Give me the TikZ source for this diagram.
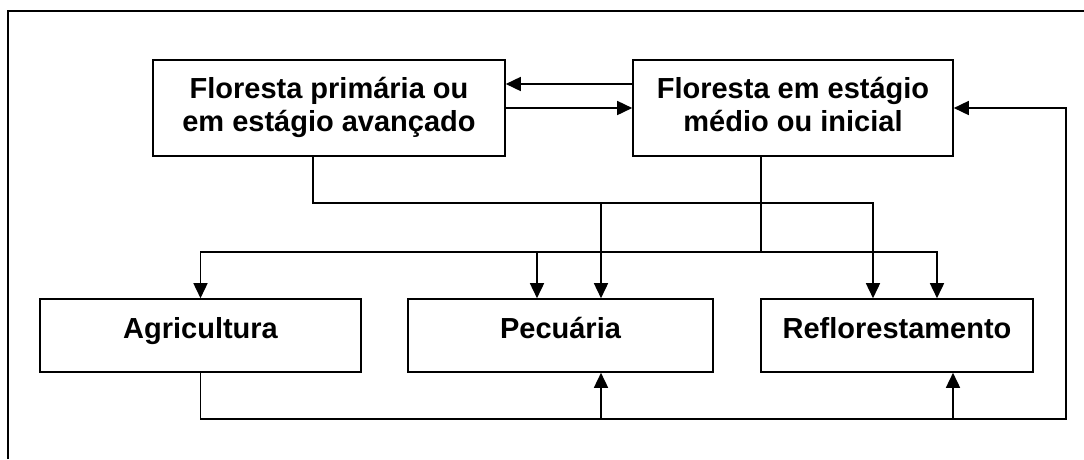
\documentclass[tikz,border=0pt]{standalone}
\usepackage{fontspec}
\setmainfont{Liberation Sans}
\usetikzlibrary{arrows.meta}
\begin{document}
\begin{tikzpicture}[x=1pt,y=-1pt,
  line width=1.6pt,
  boxstyle/.style={draw,rectangle,inner sep=0pt,line width=1.6pt},
  lbl/.style={anchor=base,inner sep=0pt,font=\fontsize{29}{33.4}\selectfont\bfseries},
  arr/.style={-{Triangle[length=15pt,width=14pt]}}]
\useasboundingbox (0,0) rectangle (1084,459);
% outer frame (partly visible)
\draw (8,459) -- (8,11) -- (1084,11);
% boxes
\node[boxstyle,minimum width=352pt,minimum height=96pt] (A) at (329,108) {};
\node[boxstyle,minimum width=320pt,minimum height=96pt] (B) at (793,108) {};
\node[boxstyle,minimum width=321pt,minimum height=73pt] (Ag) at (200.5,335.5) {};
\node[boxstyle,minimum width=305pt,minimum height=73pt] (Pe) at (560.5,335.5) {};
\node[boxstyle,minimum width=272pt,minimum height=73pt] (Re) at (897,335.5) {};
% texts
\node[lbl] (A1) at (329,98.3) {Floresta primária ou};
\node[lbl] (A2) at (329,131.3) {em estágio avançado};
\node[lbl] (B1) at (793,98.3) {Floresta em estágio};
\node[lbl] (B2) at (793,131.3) {médio ou inicial};
\node[lbl] (AgT) at (200.5,338.3) {Agricultura};
\node[lbl] (PeT) at (560.5,338.3) {Pecuária};
\node[lbl] (ReT) at (897,338.3) {Reflorestamento};
% junction coordinates
\coordinate (ja) at (313,203);
\coordinate (jap) at (601,203);
\coordinate (jar) at (873,203);
\coordinate (jb) at (761,252);
\coordinate (jbp) at (537,252);
\coordinate (jbr) at (937,252);
\coordinate (jc) at (1066,419);
\coordinate (jcp) at (601,419);
\coordinate (jcr) at (953,419);
% top arrows between A and B
\draw[arr] (B.west |- 0,84) -- (A.east |- 0,84);
\draw[arr] (A.east) -- (B.west);
% bus from A
\draw[arr] (A.south -| ja) |- (jar) -- (Re.north -| jar);
\draw[arr] (jap) -- (Pe.north -| jap);
% bus from B
\draw (B.south -| jb) -- (jb);
\draw[arr] (jb) -| (Ag.north);
\draw[arr] (jb) -| (Re.north -| jbr);
\draw[arr] (jbp) -- (Pe.north -| jbp);
% bottom bus
\draw[arr] (Ag.south) |- (jc) |- (B.east);
\draw[arr] (jcp) -- (Pe.south -| jcp);
\draw[arr] (jcr) -- (Re.south -| jcr);
\end{tikzpicture}
\end{document}
